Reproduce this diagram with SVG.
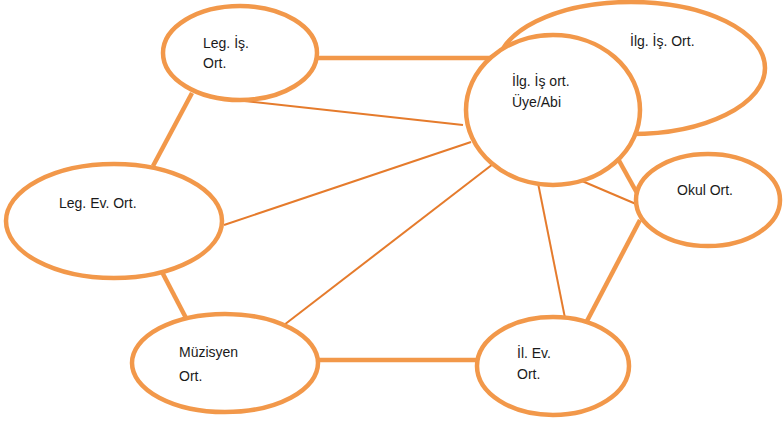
<svg xmlns="http://www.w3.org/2000/svg" width="783" height="422" viewBox="0 0 783 422">
  <style>
    .node { fill: #ffffff; stroke: #F2984A; stroke-width: 4.5; }
    .thick { stroke: #F2984A; stroke-width: 4.5; fill: none; }
    .thin { stroke: #E57B2C; stroke-width: 2; fill: none; }
    .lbl { font-family: "Liberation Sans", Arial, sans-serif; font-size: 14px; fill: #1a1a1a; }
  </style>
  <rect width="783" height="422" fill="#ffffff"/>
  <g id="connectors">
    <line class="thick" x1="315" y1="58" x2="492" y2="58"/>
    <line class="thin" x1="235" y1="100" x2="463" y2="125"/>
    <line class="thick" x1="192" y1="93" x2="153" y2="166"/>
    <line class="thin" x1="224" y1="225" x2="471" y2="142"/>
    <line class="thick" x1="162" y1="272" x2="186" y2="318"/>
    <line class="thin" x1="284" y1="325" x2="493" y2="164"/>
    <line class="thick" x1="316" y1="360" x2="478" y2="360"/>
    <line class="thin" x1="538" y1="183" x2="565" y2="318"/>
    <line class="thick" x1="617" y1="157" x2="637" y2="193"/>
    <line class="thin" x1="582" y1="181" x2="636" y2="204"/>
    <line class="thick" x1="640" y1="220" x2="587" y2="321"/>
  </g>
  <g id="ilg-is-ort">
    <ellipse class="node" cx="631" cy="68" rx="134" ry="66"/>
    <text class="lbl" x="630" y="46">İlg. İş. Ort.</text>
  </g>
  <g id="ilg-is-ort-uye-abi">
    <ellipse class="node" cx="553" cy="110" rx="87" ry="75"/>
    <text class="lbl" x="512" y="86">İlg. İş ort.</text>
    <text class="lbl" x="512" y="107">Üye/Abi</text>
  </g>
  <g id="leg-is-ort">
    <ellipse class="node" cx="240" cy="53" rx="77" ry="47"/>
    <text class="lbl" x="203" y="48">Leg. İş.</text>
    <text class="lbl" x="203" y="68">Ort.</text>
  </g>
  <g id="leg-ev-ort">
    <ellipse class="node" cx="114" cy="221" rx="108" ry="57"/>
    <text class="lbl" x="59" y="208">Leg. Ev. Ort.</text>
  </g>
  <g id="okul-ort">
    <ellipse class="node" cx="708" cy="200" rx="72" ry="46"/>
    <text class="lbl" x="677" y="195">Okul Ort.</text>
  </g>
  <g id="muzisyen-ort">
    <ellipse class="node" cx="225" cy="363" rx="93" ry="49"/>
    <text class="lbl" x="179" y="357">Müzisyen</text>
    <text class="lbl" x="179" y="381">Ort.</text>
  </g>
  <g id="il-ev-ort">
    <ellipse class="node" cx="553" cy="366" rx="76" ry="49"/>
    <text class="lbl" x="517" y="358">İl. Ev.</text>
    <text class="lbl" x="517" y="379">Ort.</text>
  </g>
</svg>
